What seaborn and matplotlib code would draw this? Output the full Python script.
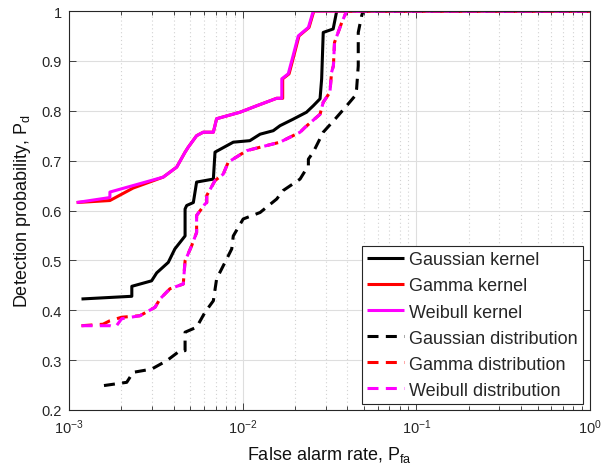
import numpy as np
import pandas as pd
import matplotlib
matplotlib.use("Agg")
import matplotlib.pyplot as plt
import matplotlib.ticker as mticker
import seaborn as sns

# ---- data ----
gauss_k_x = [1.18e-3, 2.30e-3, 2.30e-3, 2.99e-3, 3.20e-3, 3.73e-3, 4.07e-3, 4.66e-3, 4.66e-3,
             4.76e-3, 5.20e-3, 5.43e-3, 6.78e-3, 6.93e-3, 8.83e-3, 1.10e-2, 1.26e-2, 1.50e-2,
             1.64e-2, 1.95e-2, 2.33e-2, 2.55e-2, 2.79e-2, 2.85e-2, 2.91e-2, 3.32e-2, 3.48e-2, 1.0]
gauss_k_y = [0.4226, 0.428, 0.448, 0.459, 0.475, 0.496, 0.523, 0.549, 0.603,
             0.610, 0.616, 0.657, 0.663, 0.717, 0.737, 0.740, 0.753, 0.760,
             0.770, 0.783, 0.797, 0.810, 0.824, 0.864, 0.957, 0.964, 1.0, 1.0]

gamma_k_x = [1.107e-3, 1.72e-3, 2.34e-3, 3.49e-3, 4.17e-3, 4.66e-3, 4.86e-3, 5.43e-3, 5.93e-3,
             6.78e-3, 7.08e-3, 9.64e-3, 1.205e-2, 1.57e-2, 1.70e-2, 1.70e-2, 1.85e-2, 1.97e-2,
             2.11e-2, 2.41e-2, 2.57e-2, 1.0]
gamma_k_y = [0.616, 0.620, 0.645, 0.667, 0.687, 0.717, 0.727, 0.750, 0.757,
             0.757, 0.784, 0.797, 0.810, 0.825, 0.825, 0.864, 0.874, 0.910,
             0.950, 0.967, 1.0, 1.0]

weib_k_x = [1.107e-3, 1.72e-3, 1.72e-3, 2.34e-3, 3.49e-3, 4.17e-3, 4.66e-3, 4.86e-3, 5.43e-3,
            5.93e-3, 6.78e-3, 7.08e-3, 9.64e-3, 1.205e-2, 1.57e-2, 1.68e-2, 1.68e-2, 1.83e-2,
            1.95e-2, 2.09e-2, 2.39e-2, 2.55e-2, 1.0]
weib_k_y = [0.616, 0.626, 0.637, 0.650, 0.667, 0.687, 0.717, 0.727, 0.750,
            0.757, 0.757, 0.784, 0.797, 0.810, 0.825, 0.825, 0.864, 0.874,
            0.910, 0.950, 0.967, 1.0, 1.0]

gauss_d_x = [1.59e-3, 2.15e-3, 2.34e-3, 2.99e-3, 3.66e-3, 4.36e-3, 4.66e-3, 4.66e-3, 5.43e-3,
             6.07e-3, 6.78e-3, 7.08e-3, 7.91e-3, 8.65e-3, 8.83e-3, 1.007e-2, 1.26e-2, 1.57e-2,
             1.71e-2, 2.14e-2, 2.39e-2, 2.39e-2, 2.55e-2, 2.91e-2, 3.40e-2, 3.97e-2, 4.44e-2,
             4.53e-2, 4.63e-2, 4.63e-2, 4.84e-2, 4.94e-2, 1.0]
gauss_d_y = [0.249, 0.2555, 0.2755, 0.282, 0.299, 0.319, 0.319, 0.356, 0.366,
             0.396, 0.419, 0.463, 0.496, 0.523, 0.549, 0.583, 0.596, 0.623,
             0.640, 0.663, 0.690, 0.703, 0.717, 0.757, 0.783, 0.810, 0.830,
             0.844, 0.890, 0.957, 0.990, 1.0, 1.0]

gamma_d_x = [1.18e-3, 1.57e-3, 1.72e-3, 2.01e-3, 2.56e-3, 3.13e-3, 3.34e-3, 3.81e-3, 4.55e-3,
             4.66e-3, 5.08e-3, 5.43e-3, 5.43e-3, 6.07e-3, 6.21e-3, 6.21e-3, 6.93e-3, 7.73e-3,
             8.26e-3, 1.055e-2, 1.64e-2, 2.14e-2, 2.29e-2, 2.79e-2, 2.91e-2, 3.18e-2, 3.25e-2,
             3.33e-2, 3.38e-2, 3.72e-2, 3.97e-2, 1.0]
gamma_d_y = [0.369, 0.372, 0.379, 0.386, 0.389, 0.406, 0.4226, 0.443, 0.4526,
             0.499, 0.529, 0.556, 0.590, 0.613, 0.616, 0.630, 0.660, 0.673,
             0.697, 0.720, 0.737, 0.757, 0.767, 0.793, 0.817, 0.837, 0.877,
             0.890, 0.937, 0.977, 1.0, 1.0]

weib_d_x = [1.18e-3, 1.72e-3, 1.85e-3, 2.01e-3, 2.56e-3, 3.13e-3, 3.34e-3, 3.81e-3, 4.55e-3,
            4.66e-3, 5.08e-3, 5.43e-3, 5.43e-3, 6.07e-3, 6.21e-3, 6.21e-3, 6.93e-3, 7.73e-3,
            8.26e-3, 1.055e-2, 1.64e-2, 2.14e-2, 2.29e-2, 2.79e-2, 2.91e-2, 3.18e-2, 3.25e-2,
            3.33e-2, 3.38e-2, 3.72e-2, 3.97e-2, 1.0]
weib_d_y = [0.369, 0.369, 0.366, 0.383, 0.389, 0.406, 0.4226, 0.443, 0.4526,
            0.499, 0.529, 0.556, 0.590, 0.613, 0.616, 0.630, 0.660, 0.673,
            0.697, 0.720, 0.737, 0.757, 0.767, 0.793, 0.817, 0.837, 0.877,
            0.890, 0.937, 0.977, 1.0, 1.0]

labels = ["Gaussian kernel", "Gamma kernel", "Weibull kernel",
          "Gaussian distribution", "Gamma distribution", "Weibull distribution"]
y_ticks = [0.2, 0.3, 0.4, 0.5, 0.6, 0.7, 0.8, 0.9, 1.0]
x_ticks = [1e-3, 1e-2, 1e-1, 1e0]

# ---- style ----
sns.set_style("ticks")
plt.rcParams["font.family"] = ["Liberation Sans", "DejaVu Sans"]
plt.rcParams["mathtext.default"] = "regular"

fig = plt.figure(figsize=(6.02, 4.77), dpi=100)
ax = fig.add_axes([69 / 602, (477 - 411) / 477, (590 - 69) / 602, (411 - 12) / 477])

series = [
    (gauss_k_x, gauss_k_y, "black", None),
    (gamma_k_x, gamma_k_y, "#ff0000", None),
    (weib_k_x, weib_k_y, "#ff00ff", None),
    (gauss_d_x, gauss_d_y, "black", (3.6, 2.4)),
    (gamma_d_x, gamma_d_y, "#ff0000", (3.6, 2.4)),
    (weib_d_x, weib_d_y, "#ff00ff", (3.6, 2.4)),
]
handles = []
for (xs, ys, col, dsh), lab in zip(series, labels):
    df = pd.DataFrame({"x": xs, "y": ys})
    sns.lineplot(data=df, x="x", y="y", ax=ax, color=col, linewidth=2.2,
                 estimator=None, sort=False, legend=False)
    ln = ax.lines[-1]
    if dsh is not None:
        ln.set_dashes(dsh)
    ln.set_solid_capstyle("butt")
    ln.set_dash_capstyle("butt")
    ln.set_label(lab)
    handles.append(ln)

ax.set_xscale("log")
ax.set_xlim(1e-3, 1)
ax.set_ylim(0.2, 1.0)
ax.set_xticks(x_ticks)
ax.xaxis.set_minor_locator(mticker.LogLocator(base=10, subs=np.arange(2, 10), numticks=20))
ax.xaxis.set_minor_formatter(mticker.NullFormatter())
ax.set_yticks(y_ticks)
ax.set_yticklabels([f"{v:g}" for v in y_ticks])

ax.grid(True, which="major", axis="both", color="#dedede", linewidth=0.8, linestyle="-")
ax.grid(True, which="minor", axis="x", color="#d2d2d2", linewidth=0.8, linestyle=(0, (1, 2.5)))
ax.set_axisbelow(True)

for s in ax.spines.values():
    s.set_visible(True)
    s.set_color("#262626")
    s.set_linewidth(0.8)
ax.tick_params(which="both", direction="in", top=True, right=True, colors="#262626",
               labelcolor="#262626", labelsize=10.5, width=0.6)
ax.tick_params(which="major", length=5, pad=5)
ax.tick_params(which="minor", length=3)

ax.set_xlabel(r"False alarm rate, P$_{fa}$", fontsize=13, color="#111111", labelpad=6)
ax.set_ylabel(r"Detection probability, P$_{d}$", fontsize=13, color="#111111", labelpad=6)

leg = ax.legend(handles=handles, loc="lower right", bbox_to_anchor=(0.9866, 0.015),
                fontsize=13.0, frameon=True, fancybox=False, framealpha=1,
                handlelength=2.0, handletextpad=0.3, labelspacing=0.5,
                borderpad=0.3, borderaxespad=0)
leg.get_frame().set_edgecolor("#262626")
leg.get_frame().set_linewidth(0.8)

fig.savefig("out.png", dpi=100)
